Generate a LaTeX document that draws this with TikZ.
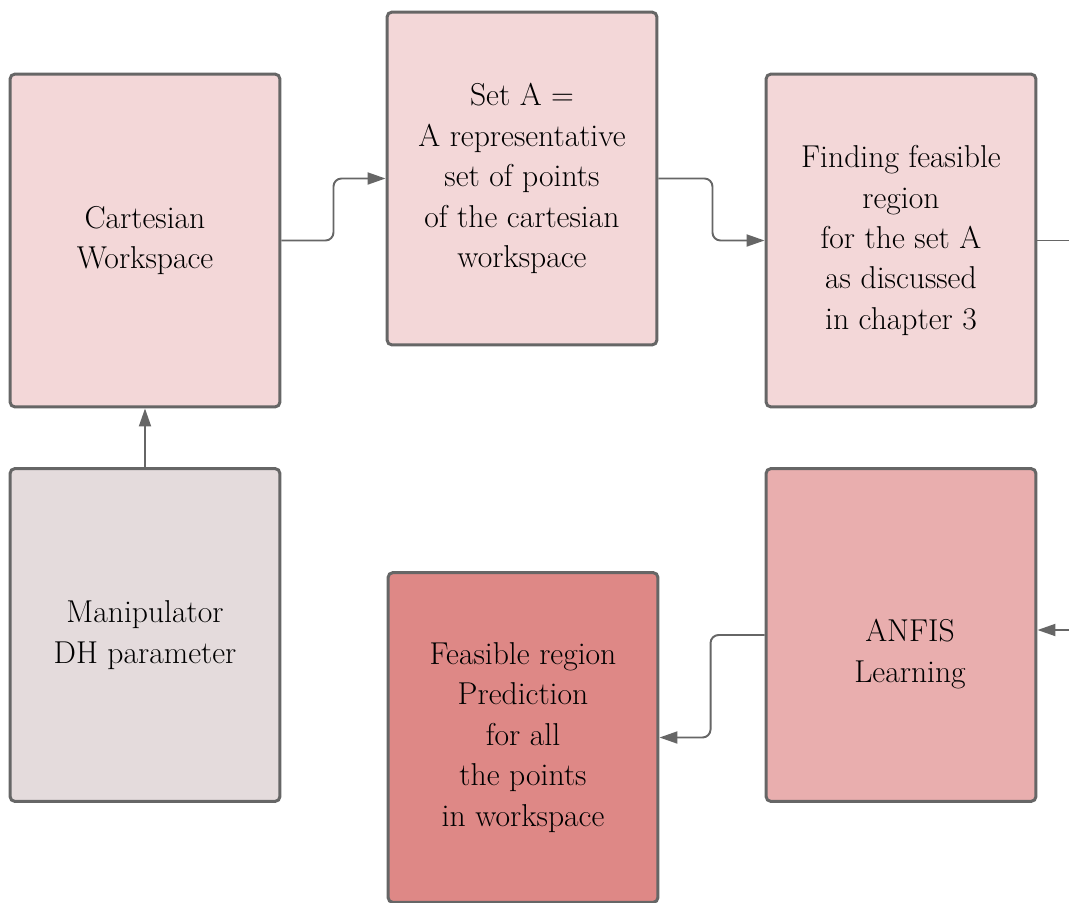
\documentclass[tikz,border=0pt]{standalone}
\usepackage{tikz}
\usetikzlibrary{arrows.meta, calc, positioning}

\definecolor{boxpink}{HTML}{F3D7D8}
\definecolor{boxgrey}{HTML}{E4DBDC}
\definecolor{boxrose}{HTML}{E9AEAE}
\definecolor{boxred}{HTML}{DE8886}
\definecolor{edgegrey}{HTML}{666666}

\tikzset{
  block/.style={draw=edgegrey, line width=1.7pt, rounded corners=0.1cm,
    minimum width=5.4cm, minimum height=6.66cm, align=center,
    font=\rmfamily\fontsize{18}{23}\selectfont},
  conn/.style={draw=edgegrey, line width=1.1pt, rounded corners=0.16cm,
    -{Triangle[length=0.36cm, width=0.24cm]}},
  plainconn/.style={draw=edgegrey, line width=1.1pt}
}

\begin{document}
\begin{tikzpicture}[x=0.02cm, y=-0.02cm]
  \useasboundingbox (0,0) rectangle (1069,903);

	\node[block, fill=boxpink] (cart) at (145,240.5) {Cartesian\\Workspace};
	\node[block, fill=boxpink] (setA) at (522,178.5)
	  {Set A =\\A representative\\set of points\\of the cartesian\\workspace};
	\node[block, fill=boxpink] (feas) at (901,240.5)
	  {Finding feasible\\region\\for the set A\\as discussed\\in chapter 3};
	\node[block, fill=boxgrey] (manip) at (145,635) {Manipulator\\DH parameter};
	\node[block, fill=boxrose] (anfis) at (901,635) {};
	\node[block, fill=boxred, minimum height=6.6cm] (pred) at (523,737.5)
	  {Feasible region\\Prediction\\for all\\the points\\in workspace};

	\node[align=center, font=\rmfamily\fontsize{18}{23}\selectfont] (anfistext)
	  at ($(anfis.center)+(9,19)$) {ANFIS\\Learning};

  \coordinate (outR) at (1069,240.5);
  \coordinate (inR) at (1069,630);

	\draw[conn] (manip.north) -- (cart.south);
	\draw[conn] (cart.east) -- ++(52,0) |- (setA.west);
	\draw[conn] (setA.east) -- ++(54,0) |- (feas.west);
	\draw[plainconn] (feas.east) -- (outR);
	\draw[conn] (inR) -- (inR -| anfis.east);
	\draw[conn] (anfis.west) -- ++(-54,0) |- (pred.east);

\end{tikzpicture}
\end{document}
